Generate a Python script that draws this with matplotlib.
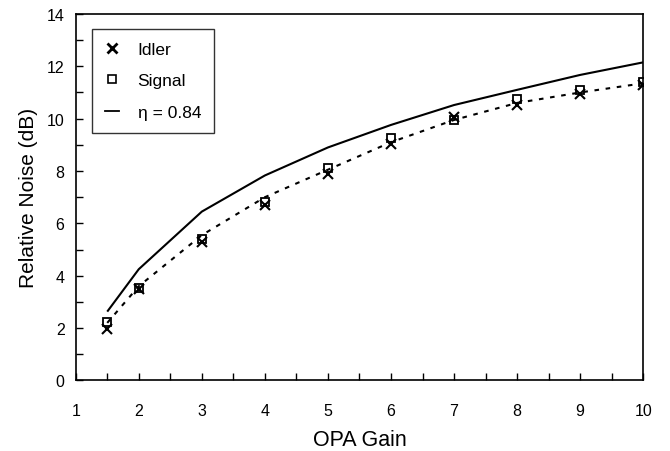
import matplotlib
matplotlib.use("Agg")
import matplotlib.pyplot as plt
from matplotlib.lines import Line2D

plt.rcParams["font.family"] = ["Liberation Sans", "DejaVu Sans"]

# OPA gain values
gain_markers = [1.5, 2, 3, 4, 5, 6, 7, 8, 9, 10]
idler_noise = [1.98, 3.48, 5.3, 6.7, 7.9, 9.05, 10.06, 10.52, 10.94, 11.3]
signal_noise = [2.25, 3.55, 5.4, 6.8, 8.1, 9.25, 9.93, 10.75, 11.1, 11.4]

# model curves
gain_curve = [1.5, 2, 3, 4, 5, 6, 7, 8, 9, 10]
ideal_noise = [2.63, 4.25, 6.45, 7.83, 8.9, 9.76, 10.52, 11.1, 11.67, 12.15]
eta_noise = [2.2, 3.6, 5.55, 7.0, 8.05, 9.1, 9.95, 10.6, 11.0, 11.35]

fig = plt.figure(figsize=(6.7, 4.52), dpi=100)
ax = fig.add_axes([0.113, 0.156, 0.847, 0.811])

ax.plot(gain_curve, ideal_noise, color="black", lw=1.5, solid_capstyle="butt")
ax.plot(gain_curve, eta_noise, color="black", lw=1.5, linestyle=(0, (2.2, 3.2)))
ax.plot(gain_markers, signal_noise, linestyle="none", marker="s", markersize=6,
        markerfacecolor="none", markeredgecolor="black", markeredgewidth=1.3)
ax.plot(gain_markers, idler_noise, linestyle="none", marker="x", markersize=7,
        color="black", markeredgewidth=1.5)

ax.set_xlim(1, 10)
ax.set_ylim(0, 14)
ax.set_xticks(range(1, 11))
ax.set_xticks([x + 0.5 for x in range(1, 10)], minor=True)
ax.set_yticks(range(0, 15, 2))
ax.set_yticks(range(1, 14, 2), minor=True)
ax.tick_params(which="both", direction="in", length=5, width=1, labelsize=11.5)
ax.tick_params(axis="x", which="major", pad=16)
ax.tick_params(axis="y", which="major", pad=8)
for sp in ax.spines.values():
    sp.set_linewidth(1.2)

ax.set_xlabel("OPA Gain", fontsize=15.5, labelpad=8)
ax.set_ylabel("Relative Noise (dB)", fontsize=15, labelpad=6)

handles = [
    Line2D([], [], linestyle="none", marker="x", color="black", markersize=7, markeredgewidth=2),
    Line2D([], [], linestyle="none", marker="s", markersize=6, markerfacecolor="none",
           markeredgecolor="black", markeredgewidth=1.2),
    Line2D([], [], color="black", lw=1.3),
]
leg = ax.legend(handles, ["Idler", "Signal", "η = 0.84"], loc="upper left",
                bbox_to_anchor=(0.028, 0.96), fontsize=12.5, frameon=True, fancybox=False,
                edgecolor="black", handlelength=0.8, handletextpad=1.1,
                labelspacing=0.95, borderpad=0.75, borderaxespad=0)
leg.get_frame().set_linewidth(1.0)

fig.savefig("out.png", dpi=100)
